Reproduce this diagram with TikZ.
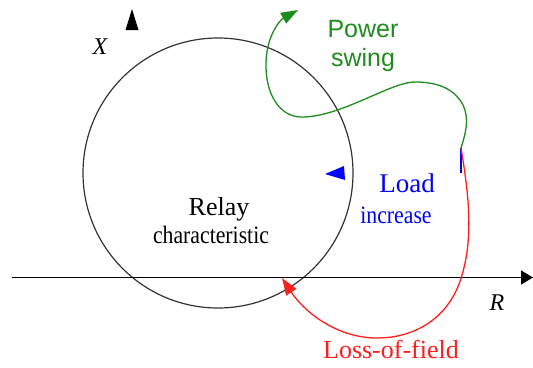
\documentclass[tikz,border=0pt]{standalone}
\usepackage{fontspec}
\setmainfont{Liberation Serif}
\newfontfamily\swingfont{Liberation Sans}
\newfontfamily\condfont[FakeStretch=0.87]{Liberation Serif}
\usetikzlibrary{arrows.meta}
\definecolor{swinggreen}{RGB}{30,140,30}
\definecolor{loadblue}{RGB}{0,0,255}
\definecolor{fieldred}{RGB}{255,30,30}
\begin{document}
\begin{tikzpicture}[x=1pt,y=-1pt,
  curve/.style={line width=1.3pt},
  lbl/.style={inner sep=0pt, anchor=base},
  tip/.style={-{Triangle[length=17pt,width=12pt]}}]
\useasboundingbox (0,0) rectangle (533,367);
% relay characteristic circle
\node[draw=black!80, line width=1.2pt, circle, minimum size=270pt, inner sep=0pt] (relay) at (218,173) {};
% R axis
\coordinate (rstart) at (12,277.5);
\coordinate (rend) at (533,277.5);
\draw[line width=1.3pt, -{Triangle[length=12pt,width=14pt]}] (rstart) -- (rend);
% X axis tip only
\coordinate (xtip) at (132,9);
\coordinate (xbl) at (125.5,30);
\coordinate (xbr) at (138.5,30);
\fill (xtip) -- (xbl) -- (xbr) -- cycle;
% operating point
\coordinate (junction) at (461,148);
\coordinate (bluebot) at (461,173);
\draw[loadblue, line width=1.4pt] (junction) -- (bluebot);
\coordinate (ltip) at (325,174);
\coordinate (lt1) at (344,166);
\coordinate (lt2) at (345,180);
\fill[loadblue] (ltip) -- (lt1) -- (lt2) -- cycle;
% loss-of-field
\coordinate (r1) at (462,275);
\coordinate (r2) at (377,338);
\coordinate (redend) at (282,278);
\draw[fieldred, curve, tip] (junction) .. controls (468,190) and (474,235) .. (r1)
  .. controls (450,318) and (415,338) .. (r2)
  .. controls (335,338) and (303,310) .. (redend);
% power swing
\coordinate (g1) at (463,105);
\coordinate (g2) at (415,82);
\coordinate (g3) at (300,117);
\coordinate (g4) at (266,62);
\coordinate (greenend) at (298,10);
\draw[swinggreen, curve, tip] (junction) .. controls (465,135) and (470,120) .. (g1)
  .. controls (455,90) and (440,82) .. (g2)
  .. controls (390,82) and (340,118) .. (g3)
  .. controls (280,116) and (265,95) .. (g4)
  .. controls (267,35) and (280,20) .. (greenend);
% labels
\node[lbl, font=\swingfont\fontsize{25}{30}\selectfont, text=swinggreen] (power) at (363,37) {Power};
\node[lbl, font=\swingfont\fontsize{25}{30}\selectfont, text=swinggreen] (swing) at (363,66) {swing};
\node[lbl, font=\fontsize{26}{30}\selectfont] (relaytxt) at (219,215) {Relay};
\node[lbl, font=\condfont\fontsize{25}{30}\selectfont] (chartxt) at (211,243) {characteristic};
\node[lbl, text=loadblue, font=\fontsize{27}{30}\selectfont] (load) at (407,192) {Load};
\node[lbl, text=loadblue, font=\condfont\fontsize{25}{30}\selectfont] (increase) at (396,223) {increase};
\node[lbl, text=fieldred, font=\fontsize{26}{30}\selectfont] (lof) at (391,358) {Loss-of-field};
\node[lbl, font=\itshape\fontsize{24}{30}\selectfont] (rlabel) at (497,310) {R};
\node[lbl, font=\itshape\fontsize{24}{30}\selectfont] (xlabel) at (100,54) {X};
\end{tikzpicture}
\end{document}
